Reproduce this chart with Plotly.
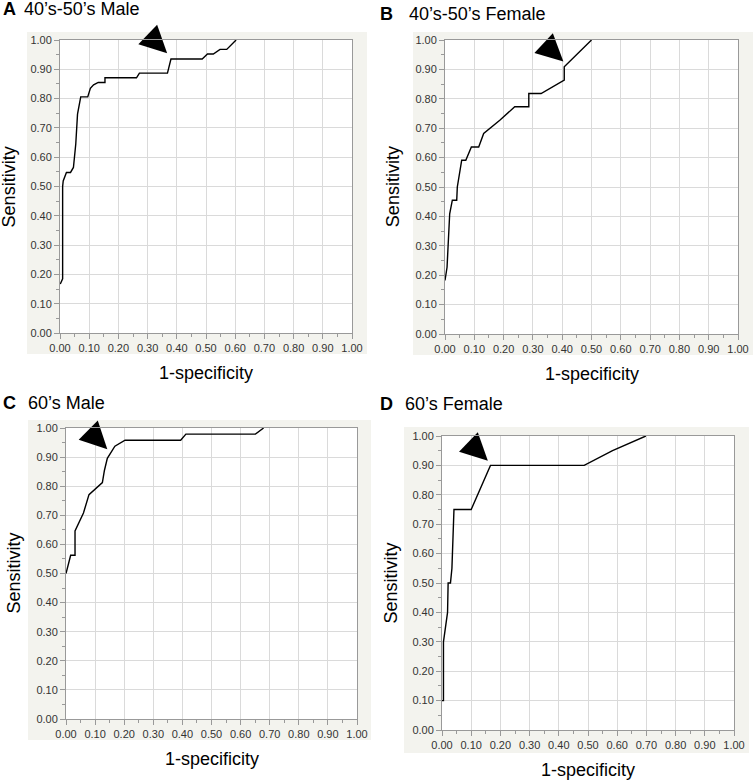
import plotly.graph_objects as go

W, H = 753, 780

# ---------------- data ----------------
panel_letters = ["A", "B", "C", "D"]
panel_titles = ["40’s-50’s Male", "40’s-50’s Female", "60’s Male", "60’s Female"]

a_fpr = [0.001, 0.009, 0.009, 0.011, 0.022, 0.036, 0.046, 0.054, 0.060, 0.071, 0.095, 0.104, 0.115,
         0.131, 0.154, 0.154, 0.262, 0.272, 0.368, 0.380, 0.487, 0.505, 0.525, 0.548, 0.571, 0.603]
a_sens = [0.167, 0.185, 0.500, 0.519, 0.548, 0.548, 0.565, 0.645, 0.747, 0.806, 0.806, 0.835, 0.847,
          0.855, 0.855, 0.871, 0.871, 0.887, 0.887, 0.935, 0.935, 0.952, 0.952, 0.968, 0.968, 1.0]

b_fpr = [0.0, 0.007, 0.016, 0.025, 0.040, 0.042, 0.057, 0.071, 0.090, 0.115, 0.132, 0.187, 0.238,
         0.286, 0.286, 0.328, 0.407, 0.407, 0.5]
b_sens = [0.182, 0.227, 0.409, 0.455, 0.455, 0.5, 0.591, 0.591, 0.636, 0.636, 0.682, 0.727, 0.773,
          0.773, 0.818, 0.818, 0.864, 0.909, 1.0]

c_fpr = [0.0, 0.016, 0.031, 0.031, 0.060, 0.079, 0.125, 0.132, 0.142, 0.168, 0.203, 0.394, 0.412, 0.651, 0.679]
c_sens = [0.5, 0.5625, 0.5625, 0.646, 0.708, 0.771, 0.8125, 0.854, 0.896, 0.9375, 0.958, 0.958, 0.979, 0.979, 1.0]

d_fpr = [0.0, 0.005, 0.005, 0.019, 0.021, 0.029, 0.034, 0.041, 0.100, 0.166, 0.487, 0.584, 0.698]
d_sens = [0.10, 0.10, 0.30, 0.40, 0.50, 0.50, 0.55, 0.75, 0.75, 0.90, 0.90, 0.95, 1.0]

# arrow (cut-off) markers: tip position and pointing angle
arrow_fpr = [0.367, 0.404, 0.142, 0.157]
arrow_sens = [0.955, 0.927, 0.927, 0.916]
arrow_angle = [134, 133, 135, 134]

tick_vals = [i / 10 for i in range(11)]
tick_text = ["%.2f" % v for v in tick_vals]

x_title = "1-specificity"
y_title = "Sensitivity"

curves = [(a_fpr, a_sens), (b_fpr, b_sens), (c_fpr, c_sens), (d_fpr, d_sens)]

# ---------------- layout geometry (pixels) ----------------
plot_px = [  # x0, x1, ytop, ybottom
    (60, 352, 40, 333),
    (445, 738, 40, 334),
    (66, 357, 428, 719),
    (442, 734, 436, 730),
]
bg_px = [
    (27, 367, 32, 354),
    (413, 753, 32, 355),
    (28, 371, 420, 740),
    (404, 749, 427, 753),
]
letter_px = [(1, 9.5), (378, 13.5), (1, 402.5), (378, 403.5)]
title_px = [(22, 9.5), (407, 13.5), (26, 402.5), (403, 403.5)]
ytitle_off = [-0.175, -0.177, -0.182, -0.176]

FONT = "Liberation Sans, Arial, Helvetica, sans-serif"

fig = go.Figure()
shapes = []
annotations = []
layout_axes = {}

for i in range(4):
    sfx = "" if i == 0 else str(i + 1)
    xref = "x" + sfx
    yref = "y" + sfx
    x0, x1, yt, yb = plot_px[i]
    fx, fy = curves[i]
    fig.add_trace(go.Scatter(x=fx, y=fy, mode="lines", xaxis=xref, yaxis=yref,
                             line=dict(color="black", width=1.4), hoverinfo="skip"))
    fig.add_trace(go.Scatter(x=[arrow_fpr[i]], y=[arrow_sens[i]], mode="markers",
                             xaxis=xref, yaxis=yref, cliponaxis=False,
                             marker=dict(symbol="arrow-up", size=27, angle=arrow_angle[i],
                                         color="black", line=dict(width=0)),
                             hoverinfo="skip"))
    common = dict(
        range=[0, 1], tickmode="array", tickvals=tick_vals, ticktext=tick_text,
        showgrid=True, gridcolor="#dadada", gridwidth=1.3,
        showline=True, linecolor="#999999", linewidth=1, mirror=True,
        ticks="outside", ticklen=5, tickcolor="#999999", tickwidth=1,
        minor=dict(ticks="outside", ticklen=3, tickcolor="#999999", dtick=0.05, tick0=0, showgrid=False),
        tickfont=dict(family=FONT, size=11, color="#333333"),
        zeroline=False, fixedrange=True, automargin=False,
    )
    layout_axes["xaxis" + sfx] = dict(common, domain=[x0 / W, x1 / W], anchor=yref)
    layout_axes["yaxis" + sfx] = dict(common, domain=[1 - yb / H, 1 - yt / H], anchor=xref)

    bx0, bx1, byt, byb = bg_px[i]
    shapes.append(dict(type="rect", xref="paper", yref="paper", x0=bx0 / W, x1=bx1 / W,
                       y0=1 - byb / H, y1=1 - byt / H, fillcolor="#f3f3ee",
                       line=dict(width=0), layer="below"))
    # white plot area on top of the grey panel
    shapes.append(dict(type="rect", xref="paper", yref="paper", x0=x0 / W, x1=x1 / W,
                       y0=1 - yb / H, y1=1 - yt / H, fillcolor="white",
                       line=dict(width=0), layer="below"))

    lx, ly = letter_px[i]
    annotations.append(dict(text="<b>%s</b>" % panel_letters[i], xref="paper", yref="paper",
                            x=lx / W, y=1 - ly / H, xanchor="left", yanchor="middle",
                            showarrow=False, font=dict(family=FONT, size=18, color="black")))
    tx, ty = title_px[i]
    annotations.append(dict(text=panel_titles[i], xref="paper", yref="paper",
                            x=tx / W, y=1 - ty / H, xanchor="left", yanchor="middle",
                            showarrow=False, font=dict(family=FONT, size=18, color="black")))
    annotations.append(dict(text=x_title, xref=xref + " domain", yref=yref + " domain",
                            x=0.5, y=-40 / (yb - yt), xanchor="center", yanchor="middle",
                            showarrow=False, font=dict(family=FONT, size=18, color="black")))
    annotations.append(dict(text=y_title, xref=xref + " domain", yref=yref + " domain",
                            x=ytitle_off[i], y=0.5, xanchor="center", yanchor="middle",
                            textangle=-90, showarrow=False,
                            font=dict(family=FONT, size=18, color="black")))

fig.update_layout(
    template="none",
    width=W, height=H, margin=dict(l=0, r=0, t=0, b=0, autoexpand=False),
    paper_bgcolor="white", plot_bgcolor="white", showlegend=False,
    shapes=shapes, annotations=annotations, **layout_axes,
)

fig.write_html("out.html", config={"displayModeBar": False},
               post_script="document.body.style.margin='0px';document.body.style.overflow='hidden';")
